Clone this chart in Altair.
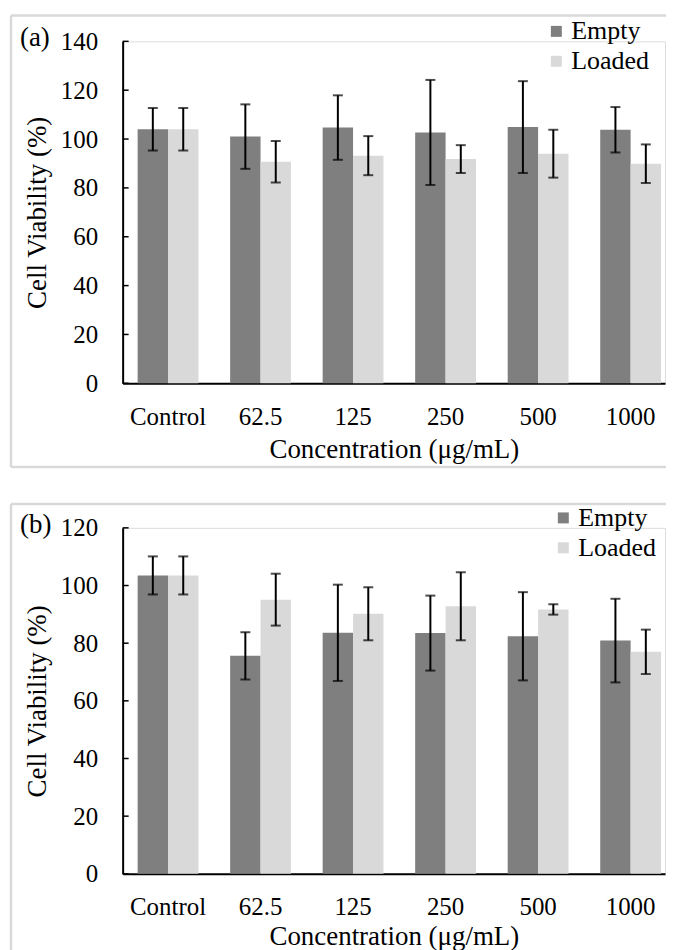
import altair as alt
import pandas as pd

conc = ["Control", "62.5", "125", "250", "500", "1000"]
series = ["Empty", "Loaded"]
colors = ["#7f7f7f", "#d9d9d9"]

# panel (a)
a_empty = [104.0, 101.0, 104.7, 102.7, 104.9, 103.8]
a_empty_err = [8.7, 13.2, 13.2, 21.5, 18.8, 9.3]
a_loaded = [104.0, 90.7, 93.2, 91.8, 94.0, 89.9]
a_loaded_err = [8.7, 8.5, 8.0, 5.7, 9.8, 7.9]
a_ticks = [0, 20, 40, 60, 80, 100, 120, 140]

# panel (b)
b_empty = [103.5, 75.6, 83.6, 83.5, 82.4, 80.9]
b_empty_err = [6.6, 8.2, 16.7, 13.0, 15.3, 14.5]
b_loaded = [103.5, 95.1, 90.2, 92.8, 91.7, 77.0]
b_loaded_err = [6.6, 9.0, 9.2, 11.8, 1.8, 7.7]
b_ticks = [0, 20, 40, 60, 80, 100, 120]

FONT = "Liberation Serif"
W = 544
TICK_FS = 25
TITLE_FS = 27
LEG_FS = 26


def panel(tag, empty, empty_err, loaded, loaded_err, ticks, H, frame_top, frame_bottom,
          legend_x, row_pad, title_y, draw_bottom):
    rows = []
    for c, v, e in zip(conc, empty, empty_err):
        rows.append({"conc": c, "series": "Empty", "value": v, "lo": v - e, "hi": v + e})
    for c, v, e in zip(conc, loaded, loaded_err):
        rows.append({"conc": c, "series": "Loaded", "value": v, "lo": v - e, "hi": v + e})
    df = pd.DataFrame(rows)
    tdf = pd.DataFrame({"t": ticks})
    dummy = pd.DataFrame({"d": [0]})

    xscale = alt.Scale(domain=conc, paddingInner=0.3427, paddingOuter=0.1024, align=0.79)
    yscale = alt.Scale(domain=[ticks[0], ticks[-1]], nice=False, zero=True)
    xoff = alt.XOffset("series:N", sort=series,
                       scale=alt.Scale(domain=series, paddingInner=0, paddingOuter=0))

    base = alt.Chart(df)
    bars = base.mark_bar().encode(
        x=alt.X("conc:N", sort=conc, scale=xscale,
                axis=alt.Axis(title="Concentration (μg/mL)", labelAngle=0, ticks=False,
                              domainColor="black", domainWidth=2, labelPadding=21,
                              labelFontSize=TICK_FS, labelFont=FONT, labelColor="black",
                              titleFontSize=TITLE_FS, titleFont=FONT, titleColor="black",
                              titleFontWeight="normal", titleY=title_y, titleBaseline="middle")),
        xOffset=xoff,
        y=alt.Y("value:Q", scale=yscale,
                axis=alt.Axis(values=ticks, title="Cell Viability (%)", ticks=False, grid=False,
                              domainColor="black", domainWidth=2, labelPadding=25,
                              labelFontSize=TICK_FS, labelFont=FONT, labelColor="black",
                              titleFontSize=TITLE_FS, titleFont=FONT, titleColor="black",
                              titleFontWeight="normal", titleX=-85, titleY=H / 2,
                              titleAlign="center", titleBaseline="middle")),
        color=alt.Color("series:N", sort=series,
                        scale=alt.Scale(domain=series, range=colors),
                        legend=alt.Legend(orient="none", legendX=legend_x, legendY=-23, title=None,
                                          symbolType="square", symbolSize=121, symbolStrokeWidth=0,
                                          labelFontSize=LEG_FS, labelFont=FONT, labelColor="black",
                                          labelOffset=2, rowPadding=row_pad)),
    )
    err = base.mark_rule(color="black", strokeWidth=2).encode(
        x=alt.X("conc:N", sort=conc, scale=xscale), xOffset=xoff,
        y=alt.Y("lo:Q", scale=yscale), y2="hi:Q")
    cap_hi = base.mark_tick(color="black", size=10, thickness=2).encode(
        x=alt.X("conc:N", sort=conc, scale=xscale), xOffset=xoff,
        y=alt.Y("hi:Q", scale=yscale))
    cap_lo = base.mark_tick(color="black", size=10, thickness=2).encode(
        x=alt.X("conc:N", sort=conc, scale=xscale), xOffset=xoff,
        y=alt.Y("lo:Q", scale=yscale))
    inner_ticks = alt.Chart(tdf).mark_rule(color="black", strokeWidth=1.5).encode(
        y=alt.Y("t:Q", scale=yscale), x=alt.value(0), x2=alt.value(6))

    fc = "#d9d9d9"
    fw = 2.5
    top = alt.Chart(dummy).mark_rule(color=fc, strokeWidth=fw).encode(
        x=alt.value(-112), x2=alt.value(W + 1), y=alt.value(frame_top))
    left = alt.Chart(dummy).mark_rule(color=fc, strokeWidth=fw).encode(
        x=alt.value(-112), y=alt.value(frame_top), y2=alt.value(frame_bottom))
    label = alt.Chart(dummy).mark_text(text=tag, align="left", baseline="middle",
                                       fontSize=TITLE_FS, font=FONT, color="black").encode(
        x=alt.value(-103), y=alt.value(-3))
    layers = [top, left, bars, err, cap_hi, cap_lo, inner_ticks, label]
    if draw_bottom:
        bottom = alt.Chart(dummy).mark_rule(color=fc, strokeWidth=fw).encode(
            x=alt.value(-112), x2=alt.value(W + 1), y=alt.value(frame_bottom))
        layers.insert(2, bottom)
    return alt.layer(*layers).properties(width=W, height=H)


pa = panel("(a)", a_empty, a_empty_err, a_loaded, a_loaded_err, a_ticks, 343, -26, 427, 422, 4, 66, True)
pb = panel("(b)", b_empty, b_empty_err, b_loaded, b_loaded_err, b_ticks, 347, -24, 430, 429, 4, 63, False)

chart = alt.vconcat(pa, pb, spacing=33).resolve_scale(
    x="independent", y="independent", color="independent", xOffset="independent"
).resolve_legend(color="independent").properties(
    padding={"left": 1, "top": 4, "right": 0, "bottom": 0}
).configure_view(stroke=None).configure(font=FONT)

chart.save("out.html", embed_options={"renderer": "svg", "actions": False})
